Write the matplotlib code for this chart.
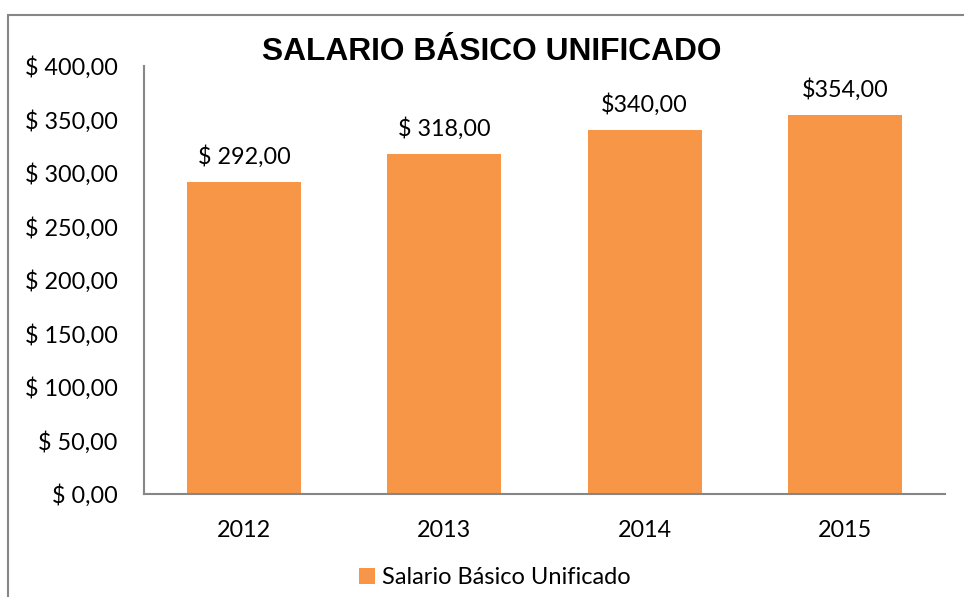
import matplotlib.pyplot as plt
from matplotlib.patches import Rectangle

# data
years = ["2012", "2013", "2014", "2015"]
salario = [292, 318, 340, 354]
etiquetas = ["$ 292,00", "$ 318,00", "$340,00", "$354,00"]
yticks = [0, 50, 100, 150, 200, 250, 300, 350, 400]
ytick_labels = ["$ 0,00", "$ 50,00", "$ 100,00", "$ 150,00", "$ 200,00",
                "$ 250,00", "$ 300,00", "$ 350,00", "$ 400,00"]

naranja = "#F79646"
gris = "#868686"
txt_font = ["Lato", "DejaVu Sans"]
fs = 16.8

fig = plt.figure(figsize=(9.64, 5.97), dpi=100)

# chart border (only left/top visible in the original)
fig.patches.append(Rectangle((8 / 964, -0.2), 1.2, (597 - 15) / 597 + 0.2,
                             transform=fig.transFigure, fill=False,
                             edgecolor=gris, linewidth=1.5))

ax = fig.add_axes([144 / 964, 103 / 597, 801 / 964, 428 / 597])
x = range(len(years))
bars = ax.bar(x, salario, width=0.57, color=naranja, label="Salario Básico Unificado")

for b, lab in zip(bars, etiquetas):
    ax.text(b.get_x() + b.get_width() / 2, b.get_height() + 13, lab,
            ha="center", va="bottom", fontsize=fs, family=txt_font)

ax.set_xlim(-0.5, len(years) - 0.5)
ax.set_ylim(0, 400)
ax.set_yticks(yticks)
ax.set_yticklabels(ytick_labels, family=txt_font, fontsize=fs)
ax.set_xticks(list(x))
ax.set_xticklabels(years, family=txt_font, fontsize=fs)
ax.tick_params(axis="y", length=0, pad=19)
ax.tick_params(axis="x", length=0, pad=19)

for s in ["top", "right"]:
    ax.spines[s].set_visible(False)
for s in ["left", "bottom"]:
    ax.spines[s].set_color(gris)
    ax.spines[s].set_linewidth(1.5)

fig.text(492 / 964, 1 - 52 / 597, "SALARIO BÁSICO UNIFICADO", ha="center", va="center",
         fontsize=22.9, fontweight="bold", family="Liberation Sans")

fig.legend(handles=[bars], labels=["Salario Básico Unificado"], loc="center",
           bbox_to_anchor=(495 / 964, 1 - 578 / 597), frameon=False,
           prop={"family": txt_font, "size": 17},
           handlelength=0.65, handleheight=0.65, handletextpad=0.3)

fig.savefig("out.png", dpi=100)
